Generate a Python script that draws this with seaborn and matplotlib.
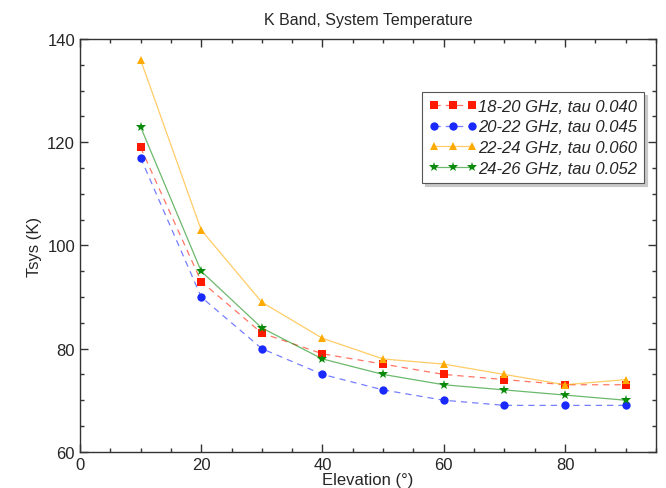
import matplotlib
matplotlib.use("Agg")
import matplotlib.pyplot as plt
import matplotlib.colors as mcolors
import seaborn as sns
import pandas as pd
from matplotlib.ticker import MultipleLocator

elevation = [10, 20, 30, 40, 50, 60, 70, 80, 90]
tsys_18_20 = [119, 93, 83, 79, 77, 75, 74, 73, 73]
tsys_20_22 = [117, 90, 80, 75, 72, 70, 69, 69, 69]
tsys_22_24 = [136, 103, 89, 82, 78, 77, 75, 73, 74]
tsys_24_26 = [123, 95, 84, 78, 75, 73, 72, 71, 70]
labels = ["18-20 GHz, tau 0.040", "20-22 GHz, tau 0.045",
          "22-24 GHz, tau 0.060", "24-26 GHz, tau 0.052"]

sns.set_style("white")
plt.rcParams['font.family'] = ['Liberation Sans', 'DejaVu Sans']

fig = plt.figure(figsize=(6.66, 4.89), dpi=100)
ax = fig.add_axes([0.12, 0.074, 0.865, 0.844])

series = [tsys_18_20, tsys_20_22, tsys_22_24, tsys_24_26]
colors = ["#ff1a00", "#1a2aff", "#ffaa00", "#0a8a0a"]
markers = ["s", "o", "^", "*"]
styles = [(0, (5, 4)), (0, (5, 4)), "-", "-"]
msizes = [6, 6, 6, 7]

for vals, lab, c, m, ls, ms in zip(series, labels, colors, markers, styles, msizes):
    df = pd.DataFrame({"Elevation": elevation, "Tsys": vals})
    sns.lineplot(data=df, x="Elevation", y="Tsys", ax=ax, color=c, marker=m,
                 linestyle=ls, linewidth=0.9, markersize=ms, markeredgewidth=0,
                 label=lab)

for line, c in zip(ax.get_lines(), colors):
    line.set_alpha(None)
    line.set_color(mcolors.to_rgba(c, 0.6))
    line.set_markerfacecolor(c)
    line.set_markeredgecolor(c)

ax.set_xlim(0, 95)
ax.set_ylim(60, 140)
ax.xaxis.set_major_locator(MultipleLocator(20))
ax.xaxis.set_minor_locator(MultipleLocator(5))
ax.yaxis.set_major_locator(MultipleLocator(20))
ax.yaxis.set_minor_locator(MultipleLocator(5))
ax.tick_params(which="both", direction="in", top=True, right=True,
               bottom=True, left=True, color="#333333")
ax.tick_params(which="major", length=6, width=1, labelsize=12)
ax.tick_params(which="minor", length=3, width=1)
for s in ax.spines.values():
    s.set_color("#333333")
    s.set_linewidth(1)

ax.set_title("K Band, System Temperature", fontsize=11.5, pad=11)
ax.set_xlabel("Elevation (°)", fontsize=12, labelpad=0)
ax.set_ylabel("Tsys (K)", fontsize=12)

leg = ax.legend(loc="upper right", bbox_to_anchor=(0.979, 0.872), numpoints=3,
                handlelength=2.9, handletextpad=0.05, fancybox=False,
                shadow={"color": "#c8c8c8", "alpha": 1}, framealpha=1,
                edgecolor="#555555",
                prop={"style": "italic", "size": 12}, borderaxespad=0,
                labelspacing=0.35)
leg.get_frame().set_linewidth(0.8)

fig.savefig("out.png", dpi=100)
